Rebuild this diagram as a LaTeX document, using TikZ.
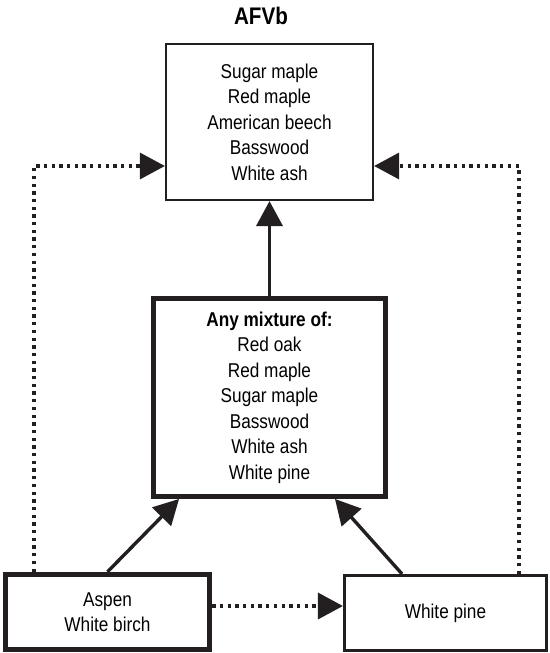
\documentclass[tikz,border=0pt]{standalone}
\usepackage{fontspec}
\setmainfont{Liberation Sans}[FakeStretch=0.86]
\usepackage{tikz}
\usetikzlibrary{arrows.meta}

\definecolor{ink}{HTML}{231F20}

\tikzset{
  box/.style={draw=ink, line width=2.2pt, inner sep=0pt, align=center,
    font=\fontsize{20}{25.5}\selectfont},
  heavybox/.style={box, line width=5.4pt},
  tip/.style={-{Triangle[length=25pt,width=26pt]}},
  arr/.style={tip, draw=ink, line width=3.8pt},
  dotarr/.style={tip, draw=ink, line width=3.3pt, dash pattern=on 3.3pt off 4.4pt}
}

\begin{document}
\begin{tikzpicture}[x=1pt,y=-1pt]
       \useasboundingbox (0,0) rectangle (549,653);

       \node(title) at (261,16) {\fontsize{24}{28}\selectfont\bfseries AFVb};

       \node(afvb)[box, minimum width=207pt, minimum height=156pt] at (269.5,122)
         {Sugar maple\\Red maple\\American beech\\Basswood\\White ash};

       \node(mix)[heavybox, minimum width=231.5pt, minimum height=197.5pt] at (269.5,397.5)
         {\textbf{Any mixture of:}\\Red oak\\Red maple\\Sugar maple\\Basswood\\White ash\\White pine};

       \node(aspen)[heavybox, minimum width=204pt, minimum height=75pt] at (107.5,612)
         {Aspen\\White birch};

       \node(wpine)[box, line width=2.6pt, minimum width=202.5pt, minimum height=75.5pt] at (445.5,613)
         {White pine};

       \draw[arr] (mix.north) -- (afvb.south);
       \draw[arr, line width=3.4pt] (aspen.north) -- ([xshift=28pt]mix.south west);
       \draw[arr, line width=3.4pt] ([xshift=-43.5pt]wpine.north) -- ([xshift=-53pt]mix.south east);

       \coordinate(lturn) at (34,166);
       \coordinate(rturn) at (519,166);
       \draw[dotarr] (aspen.north -| lturn) -- (lturn) -- (afvb.west |- lturn);
       \draw[dotarr] (wpine.north -| rturn) -- (rturn) -- (afvb.east |- rturn);
       \draw[dotarr] ([yshift=6pt]aspen.east) -- ([yshift=6pt]aspen.east -| wpine.west);
\end{tikzpicture}
\end{document}
